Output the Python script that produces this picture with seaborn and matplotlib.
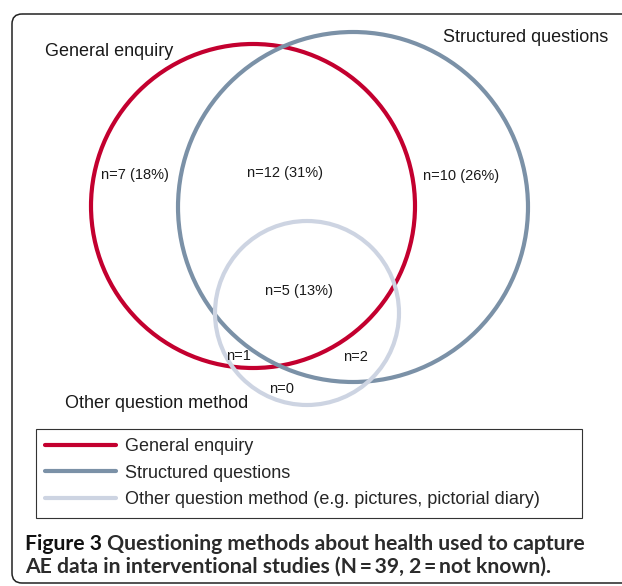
import matplotlib
matplotlib.use("Agg")
import matplotlib.pyplot as plt
from matplotlib.patches import Circle, FancyBboxPatch
from matplotlib.lines import Line2D
import seaborn as sns

# sets and the counts in each region of the diagram
sets = ["General enquiry", "Structured questions", "Other question method"]
legend_labels = ["General enquiry", "Structured questions",
                 "Other question method (e.g. pictures, pictorial diary)"]
colors = ["#C3002F", "#7B91A7", "#CDD4E2"]
region_labels = ["n=7 (18%)", "n=12 (31%)", "n=10 (26%)", "n=5 (13%)",
                 "n=1", "n=2", "n=0"]

# layout in pixel units (y downwards)
circles = [(253, 206, 162), (353, 207, 175), (307, 313, 92)]
set_label_pos = [(45, 52, "left"), (608, 37, "right"), (65, 403, "left")]
region_pos = [(135, 175), (285, 173), (461, 176), (299, 291),
              (238, 356), (355, 357), (282, 389)]

W, H = 622, 586
sns.set_theme(style="white")
plt.rcParams["font.family"] = ["Liberation Sans", "DejaVu Sans"]

fig = plt.figure(figsize=(W / 100, H / 100), dpi=100)
ax = fig.add_axes([0, 0, 1, 1])
ax.set_xlim(0, W)
ax.set_ylim(H, 0)
ax.axis("off")

# outer rounded frame (runs off the right edge)
frame = FancyBboxPatch((12, 14), 640, 569, boxstyle="round,pad=0,rounding_size=10",
                       fill=False, ec="#222222", lw=1.1, clip_on=False)
ax.add_patch(frame)

for (cx, cy, r), c in zip(circles, colors):
    ax.add_patch(Circle((cx, cy), r, fill=False, ec=c, lw=3.0))

for name, (x, y, ha) in zip(sets, set_label_pos):
    ax.text(x, y, name, ha=ha, va="center", fontsize=13, color="#1a1a1a")

for lab, (x, y) in zip(region_labels, region_pos):
    ax.text(x, y, lab, ha="center", va="center", fontsize=10.5, color="#1a1a1a")

handles = [Line2D([], [], color=c, lw=3.0) for c in colors]
leg = ax.legend(handles, legend_labels, loc="upper left",
                bbox_to_anchor=(36 / W, 1 - 516 / H, 546 / W, 87 / H), mode="expand",
                fontsize=13, handlelength=3.9, handletextpad=0.5, labelspacing=0.52,
                borderpad=0.52, borderaxespad=0, fancybox=False, framealpha=1)
leg.get_frame().set_edgecolor("#333333")
leg.get_frame().set_linewidth(0.8)

cap = dict(fontsize=15.2, fontweight="bold", family=["Lato", "DejaVu Sans"], va="center")
t1 = ax.text(25, 544, "Figure 3", color="#111111", **cap)
ax.annotate(" Questioning methods about health used to capture", xy=(1, 0.5),
            xycoords=t1, ha="left", color="#2b2b2b", **cap)
ax.text(25, 567, "AE data in interventional studies (N\u2009=\u200939, 2\u2009=\u2009not known).",
        color="#2b2b2b", **cap)

fig.savefig("out.png", dpi=100)
